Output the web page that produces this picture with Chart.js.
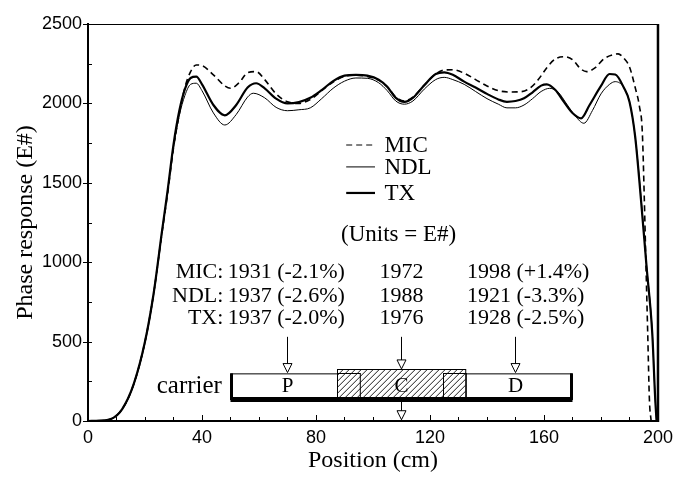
<!DOCTYPE html>
<html>
<head>
<meta charset="utf-8">
<script src="https://cdn.jsdelivr.net/npm/chart.js@4.4.1/dist/chart.umd.min.js"></script>
<style>
  html, body { margin: 0; padding: 0; background: #fff; }
  #wrap { width: 679px; height: 477px; }
</style>
</head>
<body>
<div id="wrap"><canvas id="chart" width="679" height="477"></canvas></div>
<script>
// ==================
// Data (position in cm, response in E#)
// ==================
const micX = [0, 4, 8, 12, 16, 20, 23, 26, 28, 30, 32, 34, 36, 38, 40, 44, 48, 50, 53, 56, 59, 62, 66, 70, 74, 78, 82, 86, 90, 94, 98, 102, 105, 108, 111, 114, 118, 122, 125, 128, 132, 136, 140, 144, 148, 152, 155, 158, 161, 164, 167, 170, 173, 175, 178, 181, 184, 186, 188, 190, 192, 193.5, 194.5, 195.2, 195.8, 196.4, 197, 197.6];
const micY = [0, 2, 12, 75, 230, 500, 800, 1190, 1440, 1720, 1930, 2100, 2200, 2242, 2238, 2180, 2110, 2095, 2130, 2193, 2200, 2150, 2060, 2010, 2000, 2025, 2080, 2135, 2170, 2178, 2170, 2145, 2105, 2040, 2015, 2040, 2115, 2185, 2210, 2212, 2190, 2150, 2110, 2080, 2072, 2074, 2095, 2150, 2225, 2280, 2294, 2275, 2215, 2200, 2225, 2280, 2305, 2312, 2285, 2230, 2100, 1980, 1820, 1400, 970, 550, 130, 0];

const ndlX = [0, 4, 8, 12, 16, 20, 23, 26, 28, 30, 32, 34, 36, 38, 40, 44, 48, 52, 56, 58, 62, 66, 70, 74, 78, 82, 86, 90, 94, 98, 102, 105, 108, 111, 114, 118, 122, 125, 128, 132, 136, 140, 144, 147, 150, 153, 156, 159, 162, 165, 168, 171, 174, 177, 180, 183, 185, 188, 190, 192, 194, 196, 198, 199, 199.5];
const ndlY = [0, 2, 12, 72, 225, 490, 790, 1190, 1450, 1720, 1920, 2050, 2120, 2127, 2080, 1940, 1864, 1930, 2040, 2064, 2035, 1975, 1954, 1960, 1972, 2030, 2095, 2140, 2160, 2158, 2130, 2080, 2015, 1995, 2015, 2090, 2150, 2164, 2150, 2120, 2075, 2030, 1995, 1972, 1972, 1990, 2030, 2075, 2095, 2070, 1995, 1920, 1875, 1955, 2060, 2120, 2137, 2100, 2010, 1790, 1420, 980, 560, 150, 0];

const txX = [0, 4, 8, 12, 16, 20, 23, 26, 28, 30, 32, 34, 36, 38, 40, 44, 48, 52, 56, 59, 62, 66, 70, 74, 78, 82, 86, 90, 94, 98, 102, 105, 108, 111, 114, 118, 122, 125, 128, 132, 136, 140, 144, 147, 150, 153, 156, 159, 161, 164, 167, 170, 173, 176, 180, 183, 185, 188, 190, 192, 194, 196, 198, 199, 199.5];
const txY = [0, 2, 12, 75, 230, 500, 800, 1200, 1460, 1740, 1950, 2090, 2160, 2168, 2120, 1990, 1925, 1990, 2100, 2127, 2095, 2030, 2000, 2008, 2035, 2084, 2140, 2175, 2180, 2175, 2150, 2105, 2035, 2010, 2035, 2115, 2185, 2196, 2180, 2137, 2100, 2060, 2025, 2010, 2015, 2032, 2070, 2112, 2120, 2084, 2010, 1940, 1906, 1990, 2110, 2185, 2182, 2100, 2010, 1790, 1400, 970, 550, 150, 0];

const xTicks = [0, 40, 80, 120, 160, 200];
const yTicks = [0, 500, 1000, 1500, 2000, 2500];

// annotation table under the curves
const rowNames = ["MIC:", "NDL:", "TX:"];
const colP = ["1931 (-2.1%)", "1937 (-2.6%)", "1937 (-2.0%)"];
const colC = ["1972", "1988", "1976"];
const colD = ["1998 (+1.4%)", "1921 (-3.3%)", "1928 (-2.5%)"];

const serif = '"Liberation Serif", "Times New Roman", serif';
const sans = '"Liberation Sans", Arial, sans-serif';

function pts(xs, ys) { return xs.map((x, i) => ({ x: x, y: ys[i] })); }

// ==================
// Frame, ticks, legend, carrier diagram
// ==================
const decor = {
  id: 'decor',
  afterDraw(chart) {
    const ctx = chart.ctx, a = chart.chartArea;
    const sx = chart.scales.x, sy = chart.scales.y;
    const X = v => sx.getPixelForValue(v), Y = v => sy.getPixelForValue(v);
    ctx.save();
    ctx.strokeStyle = '#000';
    ctx.fillStyle = '#000';

    // top + right frame
    ctx.lineWidth = 1;
    ctx.beginPath(); ctx.moveTo(a.left, a.top + 0.5); ctx.lineTo(a.right, a.top + 0.5); ctx.stroke();
    ctx.lineWidth = 2.5;
    ctx.beginPath(); ctx.moveTo(a.right, a.top); ctx.lineTo(a.right, a.bottom + 1); ctx.stroke();

    // ticks (minor every 250 / 10 cm)
    ctx.lineWidth = 1;
    for (let v = 0; v <= 2500; v += 250) {
      const py = Math.round(Y(v)) + 0.5, big = v % 500 === 0;
      ctx.beginPath(); ctx.moveTo(a.left - (big ? 5 : 0), py); ctx.lineTo(a.left + 4, py); ctx.stroke();
    }
    for (let v = 10; v < 200; v += 10) {
      const px = Math.round(X(v)) + 0.5, big = v % 40 === 0;
      ctx.beginPath(); ctx.moveTo(px, a.bottom); ctx.lineTo(px, a.bottom - (big ? 6 : 4)); ctx.stroke();
    }

    // axis titles
    ctx.font = '24px ' + serif;
    ctx.textAlign = 'center'; ctx.textBaseline = 'middle';
    ctx.fillText('Position (cm)', (a.left + a.right) / 2, 461);
    ctx.save();
    ctx.translate(26, (a.top + a.bottom) / 2);
    ctx.rotate(-Math.PI / 2);
    ctx.fillText('Phase response (E#)', 0, 0);
    ctx.restore();

    // legend
    const leg = [["MIC", 1738, 1, [6, 4]], ["NDL", 1600, 1, []], ["TX", 1436, 2.2, []]];
    ctx.font = '23px ' + serif;
    ctx.textAlign = 'left';
    leg.forEach(l => {
      ctx.lineWidth = l[2]; ctx.setLineDash(l[3]);
      ctx.beginPath(); ctx.moveTo(X(90.6), Y(l[1])); ctx.lineTo(X(100.7), Y(l[1])); ctx.stroke();
      ctx.setLineDash([]);
      ctx.fillText(l[0], X(104), Y(l[1]) + 1);
    });
    ctx.textAlign = 'center';
    ctx.fillText('(Units = E#)', X(109), Y(1171));

    // value table
    const rowY = [940, 783, 647];
    ctx.font = '22px ' + serif;
    rowY.forEach((v, i) => {
      const py = Y(v);
      ctx.textAlign = 'right'; ctx.fillText(rowNames[i], X(47.5), py);
      ctx.textAlign = 'left'; ctx.fillText(colP[i], X(49), py);
      ctx.textAlign = 'center'; ctx.fillText(colC[i], X(110), py);
      ctx.textAlign = 'left'; ctx.fillText(colD[i], X(133), py);
    });

    // carrier box
    const bl = X(50), br = X(170), bt = Y(300), bb = Y(145);
    ctx.fillStyle = '#fff';
    ctx.fillRect(bl, bt, br - bl, bb - bt);
    ctx.fillStyle = '#000';
    ctx.lineWidth = 1;
    ctx.beginPath(); ctx.moveTo(bl, bt + 0.5); ctx.lineTo(br, bt + 0.5); ctx.stroke();

    // hatched centre section
    function hatch(l, r, t, b) {
      ctx.fillStyle = '#fff'; ctx.fillRect(l, t, r - l, b - t);
      ctx.save();
      ctx.beginPath(); ctx.rect(l, t, r - l, b - t); ctx.clip();
      ctx.lineWidth = 0.9;
      for (let k = l - (b - t); k < r + 6; k += 6) {
        ctx.beginPath(); ctx.moveTo(k, b); ctx.lineTo(k + (b - t), t); ctx.stroke();
      }
      ctx.restore();
      ctx.lineWidth = 1;
      ctx.strokeRect(Math.round(l) + 0.5, Math.round(t) + 0.5, r - l, b - t);
    }
    hatch(X(87.5), X(132.5), Y(325), bb);
    ctx.lineWidth = 1;
    ctx.strokeRect(Math.round(X(87.5)) + 0.5, Math.round(bt) + 0.5, X(95.5) - X(87.5), bb - bt);
    ctx.strokeRect(Math.round(X(124.5)) + 0.5, Math.round(bt) + 0.5, X(132.5) - X(124.5), bb - bt);

    // thick sides and bottom
    ctx.lineWidth = 3;
    ctx.beginPath(); ctx.moveTo(bl + 1, bt); ctx.lineTo(bl + 1, bb + 2); ctx.stroke();
    ctx.beginPath(); ctx.moveTo(br - 1, bt); ctx.lineTo(br - 1, bb + 2); ctx.stroke();
    ctx.lineWidth = 5;
    ctx.beginPath(); ctx.moveTo(bl, bb + 1.5); ctx.lineTo(br, bb + 1.5); ctx.stroke();

    ctx.fillStyle = '#000';
    ctx.font = '21px ' + serif;
    ctx.textAlign = 'center';
    ctx.fillText('P', X(70), (bt + bb) / 2 + 1);
    ctx.fillText('C', X(110), (bt + bb) / 2 + 1);
    ctx.fillText('D', X(150), (bt + bb) / 2 + 1);
    ctx.font = '25px ' + serif;
    ctx.textAlign = 'right';
    ctx.fillText('carrier', X(47), (bt + bb) / 2 + 1);

    // arrows
    function arrow(cx, y0, y1) {
      const px = Math.round(cx) + 0.5;
      ctx.lineWidth = 1;
      ctx.beginPath(); ctx.moveTo(px, y0); ctx.lineTo(px, y1 - 8); ctx.stroke();
      ctx.beginPath(); ctx.moveTo(px - 4.5, y1 - 9); ctx.lineTo(px + 4.5, y1 - 9); ctx.lineTo(px, y1); ctx.closePath();
      ctx.fillStyle = '#fff'; ctx.fill(); ctx.stroke();
    }
    arrow(X(70), Y(530), Y(305));
    arrow(X(110), Y(530), Y(328));
    arrow(X(150), Y(530), Y(305));
    arrow(X(110), bb + 4, Y(8));

    ctx.restore();
  }
};

new Chart(document.getElementById('chart'), {
  type: 'line',
  data: {
    datasets: [
      { label: 'MIC', data: pts(micX, micY), borderColor: '#000', borderWidth: 1.6, borderDash: [6, 4] },
      { label: 'NDL', data: pts(ndlX, ndlY), borderColor: '#000', borderWidth: 1 },
      { label: 'TX', data: pts(txX, txY), borderColor: '#000', borderWidth: 2.2 }
    ]
  },
  options: {
    responsive: false,
    devicePixelRatio: 1,
    animation: false,
    layout: { padding: { top: 24, right: 17, left: 0, bottom: 0 } },
    elements: {
      point: { radius: 0 },
      line: { tension: 0.4, cubicInterpolationMode: 'monotone', fill: false }
    },
    plugins: { legend: { display: false }, tooltip: { enabled: false } },
    scales: {
      x: {
        type: 'linear', min: 0, max: 200,
        afterFit: s => { s.height = 56; },
        afterBuildTicks: s => { s.ticks = xTicks.map(v => ({ value: v })); },
        ticks: { color: '#000', font: { family: sans, size: 18 }, padding: 6, maxRotation: 0, callback: v => String(v) },
        grid: { display: false, drawTicks: false },
        border: { color: '#000', width: 2 }
      },
      y: {
        min: 0, max: 2500,
        afterFit: s => { s.width = 88; },
        afterBuildTicks: s => { s.ticks = yTicks.map(v => ({ value: v })); },
        ticks: { color: '#000', font: { family: sans, size: 18 }, padding: 6, callback: v => String(v) },
        grid: { display: false, drawTicks: false },
        border: { color: '#000', width: 2 }
      }
    }
  },
  plugins: [decor]
});
</script>
</body>
</html>
